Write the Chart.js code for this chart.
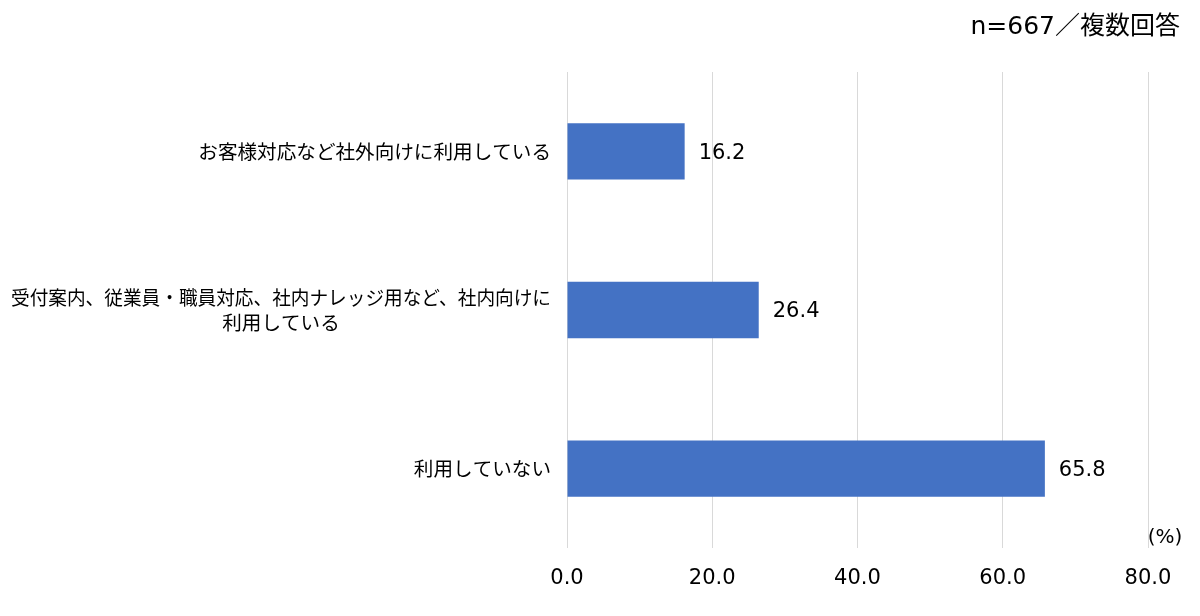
<!DOCTYPE html>
<html>
<head>
<meta charset="utf-8">
<script src="https://cdn.jsdelivr.net/npm/chart.js@4"></script>
<style>
html,body{margin:0;padding:0;background:#fff;}
#wrap{width:1200px;height:616px;position:relative;}
</style>
</head>
<body>
<div id="wrap"><canvas id="c"></canvas></div>
<script>
const categories = [
  ["お客様対応など社外向けに利用している"],
  ["受付案内、従業員・職員対応、社内ナレッジ用など、社内向けに", "利用している"],
  ["利用していない"]
];
const values = [16.2, 26.4, 65.8];
const xTicks = [0, 20, 40, 60, 80];
const title = "n=667／複数回答";
const unitLabel = "(%)";

const JP = '"Noto Sans CJK JP", "Noto Sans", sans-serif';
const NUM = '"DejaVu Sans", "Noto Sans CJK JP", sans-serif';

const labelsPlugin = {
  id: 'customLabels',
  afterDraw(chart) {
    const ctx = chart.ctx;
    const y = chart.scales.y;
    const x = chart.scales.x;
    ctx.save();
    ctx.fillStyle = '#000';
    // category labels
    ctx.font = '19.6px ' + JP;
    ctx.textBaseline = 'middle';
    ctx.textAlign = 'center';
    const lh = 25;
    const maxAllowed = 540;
    categories.forEach((lines, i) => {
      const cy = y.getPixelForValue(i);
      const maxW = Math.min(maxAllowed, Math.max(...lines.map(l => ctx.measureText(l).width)));
      const cx = x.left - 16 - maxW / 2;
      const y0 = cy - (lines.length - 1) * lh / 2;
      lines.forEach((l, j) => ctx.fillText(l, cx, y0 + j * lh, maxAllowed));
    });
    // data labels
    ctx.font = '21px ' + NUM;
    ctx.textAlign = 'left';
    const meta = chart.getDatasetMeta(0);
    meta.data.forEach((bar, i) => {
      ctx.fillText(values[i].toFixed(1), bar.x + 14, bar.y + 2);
    });
    // title
    ctx.font = '25px ' + NUM;
    ctx.textAlign = 'right';
    ctx.fillText(title, 1180, 27);
    // unit
    ctx.font = '20px ' + NUM;
    ctx.textAlign = 'center';
    ctx.fillText(unitLabel, x.right + 17, 538);
    ctx.restore();
  }
};

new Chart(document.getElementById('c'), {
  type: 'bar',
  data: {
    labels: categories.map(c => c.join('')),
    datasets: [{
      data: values,
      backgroundColor: '#4472c4',
      borderWidth: 0,
      categoryPercentage: 1.0,
      barPercentage: 0.355
    }]
  },
  options: {
    indexAxis: 'y',
    responsive: true,
    maintainAspectRatio: false,
    animation: false,
    layout: { padding: { left: 0, right: 52, top: 72, bottom: 0 } },
    plugins: { legend: { display: false }, tooltip: { enabled: false } },
    scales: {
      x: {
        min: 0, max: 80,
        afterBuildTicks(s) { s.ticks = xTicks.map(v => ({ value: v })); },
        afterFit(s) { s.height = 68; },
        ticks: {
          padding: 18,
          color: '#000',
          font: { family: NUM, size: 21 },
          callback: v => Number(v).toFixed(1),
          maxRotation: 0
        },
        grid: { color: '#d9d9d9', drawTicks: false, lineWidth: 1 },
        border: { display: false }
      },
      y: {
        afterFit(s) { s.width = 567; },
        ticks: { callback: () => '' },
        grid: { display: false },
        border: { display: false }
      }
    }
  },
  plugins: [labelsPlugin]
});
</script>
</body>
</html>
